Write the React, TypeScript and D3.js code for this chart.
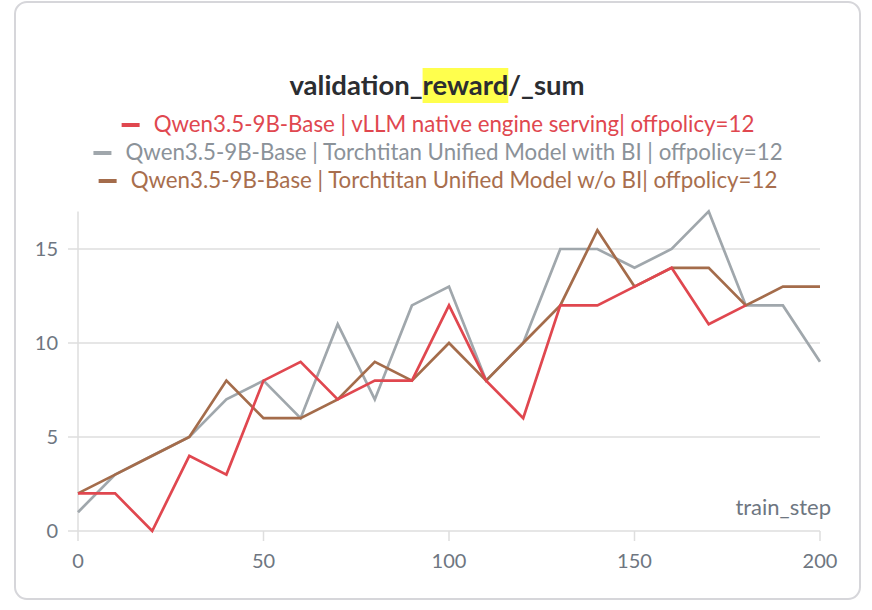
import React, { useEffect, useRef } from 'react';
import * as d3 from 'd3';

const steps = [0, 10, 20, 30, 40, 50, 60, 70, 80, 90, 100, 110, 120, 130, 140, 150, 160, 170, 180, 190, 200];
const vllmValues = [2, 2, 0, 4, 3, 8, 9, 7, 8, 8, 12, 8, 6, 12, 12, 13, 14, 11, 12];
const withBiValues = [1, 3, 4, 5, 7, 8, 6, 11, 7, 12, 13, 8, 10, 15, 15, 14, 15, 17, 12, 12, 9];
const withoutBiValues = [2, 3, 4, 5, 8, 6, 6, 7, 9, 8, 10, 8, 10, 12, 16, 13, 14, 14, 12, 13, 13];
const xTicks = [0, 50, 100, 150, 200];
const yTicks = [0, 5, 10, 15];

const series = [
  { label: 'Qwen3.5-9B-Base | vLLM native engine serving| offpolicy=12', values: vllmValues, color: '#e0474f', text: '#e0474f' },
  { label: 'Qwen3.5-9B-Base | Torchtitan Unified Model with BI | offpolicy=12', values: withBiValues, color: '#a0a7ac', text: '#8b9299' },
  { label: 'Qwen3.5-9B-Base | Torchtitan Unified Model w/o BI| offpolicy=12', values: withoutBiValues, color: '#a46c4b', text: '#a86e4d' },
];

const W = 872;
const H = 610;
const FONT = 'Lato, "Noto Sans", sans-serif';

export default function App() {
  const svgRef = useRef<SVGSVGElement>(null);

  useEffect(() => {
    if (!svgRef.current) return;
    const svg = d3.select(svgRef.current);
    svg.selectAll('*').remove();

    // card
    svg.append('rect')
      .attr('x', 15).attr('y', 2).attr('width', 845).attr('height', 597)
      .attr('rx', 12).attr('fill', '#fff')
      .attr('stroke', '#d6d6da').attr('stroke-width', 2);

    const x = d3.scaleLinear().domain([0, 200]).range([78, 820]);
    const y = d3.scaleLinear().domain([0, 17]).range([531, 211.4]);

    // grid
    svg.selectAll('.grid')
      .data(yTicks)
      .enter()
      .append('line')
      .attr('x1', 68).attr('x2', x(200))
      .attr('y1', d => y(d)).attr('y2', d => y(d))
      .attr('stroke', '#dedede').attr('stroke-width', 1.5);

    svg.append('line')
      .attr('x1', x(0)).attr('x2', x(0))
      .attr('y1', y(17)).attr('y2', 541)
      .attr('stroke', '#dedede').attr('stroke-width', 1.5);

    svg.selectAll('.xtick')
      .data(xTicks.slice(1))
      .enter()
      .append('line')
      .attr('x1', d => x(d)).attr('x2', d => x(d))
      .attr('y1', y(0)).attr('y2', 541)
      .attr('stroke', '#dedede').attr('stroke-width', 1.5);

    svg.selectAll('.ylab')
      .data(yTicks)
      .enter()
      .append('text')
      .attr('x', 58).attr('y', d => y(d))
      .attr('dy', '0.36em')
      .attr('text-anchor', 'end')
      .attr('font-family', FONT).attr('font-size', 20)
      .attr('fill', '#6e7681')
      .text(d => d);

    svg.selectAll('.xlab')
      .data(xTicks)
      .enter()
      .append('text')
      .attr('x', d => x(d)).attr('y', 561)
      .attr('dy', '0.36em')
      .attr('text-anchor', 'middle')
      .attr('font-family', FONT).attr('font-size', 20)
      .attr('fill', '#6e7681')
      .text(d => d);

    svg.append('text')
      .attr('x', 831).attr('y', 515)
      .attr('text-anchor', 'end')
      .attr('font-family', FONT).attr('font-size', 22)
      .attr('fill', '#6e7681')
      .text('train_step');

    // lines
    const line = d3.line<number>()
      .x((_, i) => x(steps[i]))
      .y(d => y(d));

    [series[1], series[2], series[0]].forEach(s => {
      svg.append('path')
        .datum(s.values)
        .attr('fill', 'none')
        .attr('stroke', s.color)
        .attr('stroke-width', 2.7)
        .attr('stroke-linejoin', 'miter')
        .attr('d', line);
    });

    // title
    const title = svg.append('text')
      .attr('y', 95)
      .attr('font-family', FONT).attr('font-size', 27.5).attr('font-weight', 700)
      .attr('fill', '#2b2d31');
    title.append('tspan').text('validation_');
    const hl = title.append('tspan').text('reward');
    title.append('tspan').text('/_sum');
    const tw = (title.node() as SVGTextElement).getComputedTextLength();
    title.attr('x', 437 - tw / 2);
    const hb = (hl.node() as SVGTSpanElement).getBBox();
    svg.insert('rect', () => title.node() as SVGTextElement)
      .attr('x', hb.x).attr('y', 68).attr('width', hb.width).attr('height', 35)
      .attr('fill', '#ffff4d');

    // legend
    series.forEach((s, i) => {
      const g = svg.append('g');
      const ty = 132 + i * 28;
      const t = g.append('text')
        .attr('x', 32).attr('y', ty)
        .attr('font-family', FONT).attr('font-size', 22.3)
        .attr('fill', s.text)
        .text(s.label);
      g.append('line')
        .attr('x1', 0).attr('x2', 18)
        .attr('y1', ty - 7).attr('y2', ty - 7)
        .attr('stroke', s.color).attr('stroke-width', 4);
      const w = 32 + (t.node() as SVGTextElement).getComputedTextLength();
      g.attr('transform', `translate(${438 - w / 2},0)`);
    });
  }, []);

  return (
    <svg
      ref={svgRef}
      width={W}
      height={H}
      style={{ position: 'absolute', left: 0, top: 0, background: '#fff' }}
    />
  );
}
